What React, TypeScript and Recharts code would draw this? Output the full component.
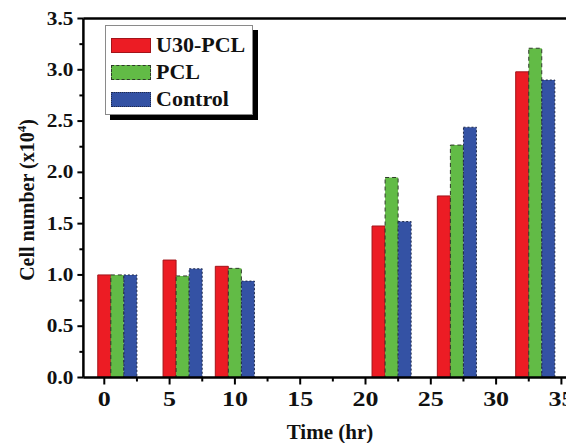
import { BarChart, Bar, XAxis, YAxis, Legend, ReferenceLine } from 'recharts'

// each group: U30-PCL at t, PCL at t+1, Control at t+2
const groupStarts = [0, 5, 9, 21, 26, 32]
const u30Values = [1.0, 1.145, 1.084, 1.477, 1.77, 2.98]
const pclValues = [1.0, 0.99, 1.064, 1.95, 2.266, 3.21]
const controlValues = [1.0, 1.06, 0.94, 1.52, 2.44, 2.9]

const xTicks = [0, 2.5, 5, 7.5, 10, 12.5, 15, 17.5, 20, 22.5, 25, 27.5, 30, 32.5, 35]
const yTicks = [0, 0.25, 0.5, 0.75, 1, 1.25, 1.5, 1.75, 2, 2.25, 2.5, 2.75, 3, 3.25, 3.5]

const data: { t: number; u30?: number; pcl?: number; control?: number }[] = []
groupStarts.forEach((t, i) => {
  data.push({ t, u30: u30Values[i] })
  data.push({ t: t + 1, pcl: pclValues[i] })
  data.push({ t: t + 2, control: controlValues[i] })
})

const FONT = '"Liberation Serif", "Times New Roman", serif'

const series = [
  { key: 'u30', name: 'U30-PCL', fill: '#ec1c24', stroke: '#a3141a', dash: undefined },
  { key: 'pcl', name: 'PCL', fill: '#62bb46', stroke: '#2f3a2a', dash: '4 3' },
  { key: 'control', name: 'Control', fill: '#3452a4', stroke: '#1f2a4a', dash: '2 2' },
]

// the source figure's lettering is a little stretched sideways
function XTick({ x, y, payload }: any) {
  const major = payload.value % 5 === 0
  return (
    <g>
      <line x1={x} x2={x} y1={y} y2={y + (major ? 7 : 4)} stroke="#000" strokeWidth={2} />
      {major && (
        <text
          transform={`translate(${x}, ${y + 28}) scale(1.18, 1)`}
          textAnchor="middle"
          fontFamily={FONT}
          fontWeight="bold"
          fontSize={22}
          fill="#111"
        >
          {payload.value}
        </text>
      )}
    </g>
  )
}

function YTick({ x, y, payload }: any) {
  const major = Math.abs(payload.value * 2 - Math.round(payload.value * 2)) < 1e-6
  return (
    <g>
      <line x1={x} x2={x - (major ? 6 : 4)} y1={y} y2={y} stroke="#000" strokeWidth={2} />
      {major && (
        <text
          transform={`translate(${x - 10}, ${y + 6}) scale(1.12, 1)`}
          textAnchor="end"
          fontFamily={FONT}
          fontWeight="bold"
          fontSize={19}
          fill="#111"
        >
          {payload.value.toFixed(1)}
        </text>
      )}
    </g>
  )
}

function YLabel() {
  return (
    <text
      transform="translate(34, 200) rotate(-90)"
      textAnchor="middle"
      fontFamily={FONT}
      fontWeight="bold"
      fontSize={20}
      fill="#111"
    >
      Cell number (x10<tspan dy={-8} fontSize={13}>4</tspan><tspan dy={8}>)</tspan>
    </text>
  )
}

function XLabel() {
  return (
    <text x={330} y={439} textAnchor="middle" fontFamily={FONT} fontWeight="bold" fontSize={21} fill="#111">
      Time (hr)
    </text>
  )
}

function LegendBox() {
  return (
    <div
      style={{
        border: '1px solid #8a8a8a',
        background: '#fff',
        boxShadow: '5px 5px 0 #000',
        padding: '6px 6px 3px 5px',
        width: 148,
        height: 90,
        fontFamily: FONT,
        fontWeight: 'bold',
        fontSize: 20,
        color: '#111',
        boxSizing: 'border-box',
        whiteSpace: 'nowrap',
      }}
    >
      {series.map((s) => (
        <div key={s.key} style={{ display: 'flex', alignItems: 'center', height: 27 }}>
          <span
            style={{
              display: 'inline-block',
              width: 38,
              height: 13,
              background: s.fill,
              border: `1px ${s.dash ? (s.key === 'pcl' ? 'dashed' : 'dotted') : 'solid'} ${s.stroke}`,
              marginRight: 5,
              flex: 'none',
            }}
          />
          <span style={{ display: 'inline-block', transform: 'scaleX(1.1)', transformOrigin: 'left center' }}>
            {s.name}
          </span>
        </div>
      ))}
    </div>
  )
}

export default function App() {
  return (
    <div style={{ position: 'fixed', top: 0, left: 0, width: 566, height: 443, overflow: 'hidden', background: '#fff' }}>
      <BarChart
        width={581}
        height={443}
        data={data}
        margin={{ top: 18.5, right: 0, bottom: 0, left: 0 }}
        barCategoryGap={0}
      >
        <XAxis
          dataKey="t"
          type="number"
          domain={[-1.6, 36.5]}
          ticks={xTicks}
          interval={0}
          allowDataOverflow
          height={65.5}
          tickSize={0}
          tickMargin={0}
          tick={<XTick />}
          axisLine={{ stroke: '#000', strokeWidth: 2.5 }}
          label={<XLabel />}
        />
        <YAxis
          type="number"
          domain={[0, 3.5]}
          ticks={yTicks}
          interval={0}
          width={83.4}
          tickSize={0}
          tickMargin={0}
          tick={<YTick />}
          axisLine={{ stroke: '#000', strokeWidth: 2.5 }}
          label={<YLabel />}
        />
        <ReferenceLine y={3.5} stroke="#000" strokeWidth={2.5} />
        <Legend
          layout="horizontal"
          verticalAlign="middle"
          align="center"
          wrapperStyle={{ top: 25, left: 105, width: 'auto', height: 'auto' }}
          content={<LegendBox />}
        />
        {series.map((s) => (
          <Bar
            key={s.key}
            dataKey={s.key}
            name={s.name}
            stackId="a"
            fill={s.fill}
            stroke={s.stroke}
            strokeWidth={1}
            strokeDasharray={s.dash}
            isAnimationActive={false}
          />
        ))}
      </BarChart>
    </div>
  )
}
